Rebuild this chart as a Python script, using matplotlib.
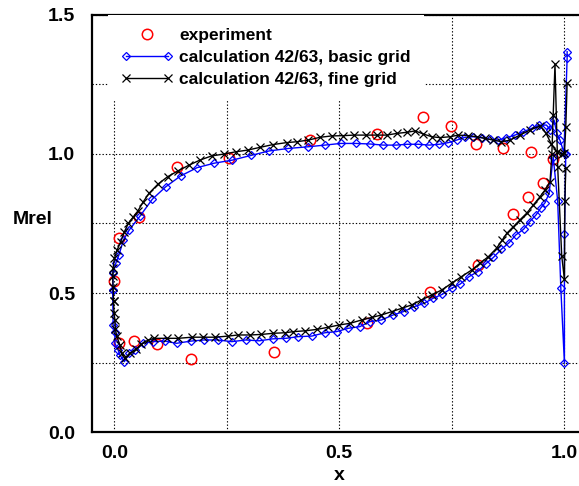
import matplotlib
matplotlib.use("Agg")
import matplotlib.pyplot as plt
from matplotlib.legend_handler import HandlerLine2D

plt.rcParams['font.family'] = ['Liberation Sans', 'DejaVu Sans']
plt.rcParams['font.weight'] = 'bold'

# measured relative Mach number
exp_x = [0.000, 0.011, 0.011, 0.043, 0.054, 0.095, 0.139, 0.170, 0.254, 0.355,
         0.435, 0.561, 0.583, 0.687, 0.702, 0.749, 0.804, 0.809, 0.865, 0.886,
         0.920, 0.927, 0.954, 0.976]
exp_y = [0.544, 0.697, 0.321, 0.328, 0.775, 0.317, 0.952, 0.264, 0.986, 0.287,
         1.050, 0.391, 1.071, 1.134, 0.502, 1.102, 1.035, 0.601, 1.023, 0.784,
         0.847, 1.006, 0.894, 0.981]

# calculation 42/63, basic grid - suction side, leading edge to trailing edge
basic_up_x = [-0.004, -0.003, 0.003, 0.010, 0.020, 0.033, 0.057, 0.084, 0.114, 0.147,
              0.184, 0.222, 0.262, 0.304, 0.344, 0.387, 0.431, 0.468, 0.503, 0.537,
              0.568, 0.598, 0.626, 0.651, 0.676, 0.700, 0.723, 0.743, 0.761, 0.780,
              0.798, 0.817, 0.835, 0.854, 0.872, 0.891, 0.909, 0.928, 0.945, 0.961,
              0.970, 0.978, 0.984, 0.991, 1.000, 1.007, 1.007]
basic_up_y = [0.511, 0.571, 0.607, 0.637, 0.691, 0.727, 0.777, 0.837, 0.882, 0.921,
              0.951, 0.967, 0.978, 0.995, 1.011, 1.020, 1.026, 1.032, 1.038, 1.038,
              1.036, 1.032, 1.032, 1.035, 1.035, 1.032, 1.035, 1.041, 1.050, 1.060,
              1.062, 1.059, 1.053, 1.050, 1.059, 1.068, 1.080, 1.092, 1.104, 1.104,
              1.086, 1.122, 1.074, 1.050, 1.005, 1.344, 1.368]
# basic grid - pressure side
basic_lo_x = [-0.004, -0.003, 0.001, 0.001, 0.008, 0.012, 0.022, 0.033, 0.046, 0.063,
              0.086, 0.112, 0.138, 0.170, 0.199, 0.230, 0.261, 0.292, 0.322, 0.352,
              0.382, 0.409, 0.439, 0.468, 0.494, 0.520, 0.546, 0.568, 0.594, 0.620,
              0.643, 0.667, 0.689, 0.709, 0.729, 0.750, 0.769, 0.789, 0.808, 0.826,
              0.843, 0.861, 0.878, 0.893, 0.910, 0.924, 0.938, 0.948, 0.958, 0.967,
              0.976, 0.986, 0.993, 1.001, 1.001, 1.004]
basic_lo_y = [0.511, 0.385, 0.361, 0.319, 0.295, 0.277, 0.253, 0.283, 0.295, 0.319,
              0.325, 0.327, 0.319, 0.327, 0.331, 0.331, 0.325, 0.331, 0.328, 0.335,
              0.337, 0.343, 0.345, 0.357, 0.361, 0.373, 0.379, 0.397, 0.403, 0.421,
              0.433, 0.451, 0.463, 0.481, 0.495, 0.517, 0.532, 0.559, 0.577, 0.605,
              0.628, 0.658, 0.681, 0.709, 0.729, 0.757, 0.781, 0.805, 0.825, 0.859,
              0.990, 0.831, 0.517, 0.247, 0.711, 1.000]

# calculation 42/63, fine grid - suction side
fine_up_x = [-0.002, -0.003, -0.004, -0.003, 0.000, 0.006, 0.014, 0.022, 0.031, 0.041,
             0.052, 0.064, 0.077, 0.097, 0.118, 0.142, 0.166, 0.190, 0.216, 0.244,
             0.270, 0.296, 0.324, 0.353, 0.383, 0.405, 0.431, 0.457, 0.483, 0.509,
             0.533, 0.560, 0.583, 0.606, 0.628, 0.650, 0.669, 0.687, 0.706, 0.724,
             0.746, 0.765, 0.786, 0.806, 0.824, 0.843, 0.861, 0.880, 0.902, 0.924,
             0.947, 0.960, 0.972, 0.985, 0.995, 1.001, 1.004, 1.007]
fine_up_y = [0.470, 0.520, 0.560, 0.590, 0.625, 0.655, 0.685, 0.720, 0.751, 0.772,
             0.795, 0.828, 0.859, 0.892, 0.918, 0.940, 0.960, 0.978, 0.993, 1.000,
             1.008, 1.014, 1.024, 1.034, 1.041, 1.044, 1.050, 1.060, 1.065, 1.066,
             1.068, 1.068, 1.068, 1.068, 1.074, 1.078, 1.083, 1.072, 1.062, 1.059,
             1.062, 1.068, 1.066, 1.062, 1.056, 1.050, 1.044, 1.050, 1.068, 1.086,
             1.101, 1.075, 1.035, 1.008, 1.000, 1.002, 1.096, 1.254]
# fine grid - pressure side
fine_lo_x = [-0.002, -0.001, 0.001, 0.002, 0.005, 0.012, 0.016, 0.023, 0.034, 0.048,
             0.060, 0.075, 0.089, 0.116, 0.142, 0.172, 0.198, 0.224, 0.253, 0.275,
             0.301, 0.327, 0.353, 0.379, 0.398, 0.424, 0.450, 0.476, 0.500, 0.524,
             0.550, 0.572, 0.594, 0.617, 0.639, 0.661, 0.683, 0.706, 0.728, 0.750,
             0.772, 0.795, 0.813, 0.832, 0.850, 0.862, 0.873, 0.887, 0.902, 0.917,
             0.932, 0.947, 0.958, 0.969, 0.973, 0.976, 0.980, 0.986, 0.995, 1.001,
             1.002, 1.004]
fine_lo_y = [0.470, 0.427, 0.403, 0.370, 0.345, 0.313, 0.283, 0.265, 0.283, 0.297,
             0.316, 0.331, 0.337, 0.337, 0.337, 0.341, 0.341, 0.341, 0.345, 0.349,
             0.349, 0.351, 0.355, 0.357, 0.361, 0.364, 0.369, 0.377, 0.385, 0.391,
             0.403, 0.412, 0.421, 0.433, 0.445, 0.457, 0.475, 0.493, 0.511, 0.535,
             0.559, 0.583, 0.607, 0.631, 0.661, 0.689, 0.715, 0.738, 0.763, 0.787,
             0.817, 0.847, 0.871, 0.900, 1.000, 1.140, 1.323, 0.954, 0.633, 0.549,
             0.831, 0.950]


class RightMarkerHandler(HandlerLine2D):
    """Single legend marker placed at the right end of the handle."""
    def get_xdata(self, legend, xdescent, ydescent, width, height, fontsize):
        xd = [-xdescent, -xdescent + width]
        xm = [-xdescent + width - self._marker_pad * fontsize]
        return xd, xm


fig = plt.figure(figsize=(5.79, 4.86), dpi=100)
ax = fig.add_axes([92 / 579, 54 / 486, 1.1 * 449.5 / 579, 417 / 486])

exp_line, = ax.plot(exp_x, exp_y, 'o', ls='none', ms=7.5, mfc='none',
                    mec='#ff0000', mew=1.1, label='experiment', zorder=3)

blue = '#0000ff'
basic_line, = ax.plot(basic_up_x, basic_up_y, color=blue, lw=1.0, marker='D', ms=4.2,
                      mfc='none', mec=blue, mew=0.9,
                      label='calculation 42/63, basic grid', zorder=4)
ax.plot(basic_lo_x, basic_lo_y, color=blue, lw=1.0, marker='D', ms=4.2,
        mfc='none', mec=blue, mew=0.9, zorder=4)

fine_line, = ax.plot(fine_up_x, fine_up_y, color='black', lw=1.0, marker='x', ms=6,
                     mew=0.9, label='calculation 42/63, fine grid', zorder=5)
ax.plot(fine_lo_x, fine_lo_y, color='black', lw=1.0, marker='x', ms=6,
        mew=0.9, zorder=5)

ax.set_xlim(-0.05, 1.05)
ax.set_ylim(0, 1.5)
ax.set_xticks([0.0, 0.5, 1.0])
ax.set_xticklabels(['0.0', '0.5', '1.0'])
ax.set_xticks([0.25, 0.75], minor=True)
ax.set_yticks([0.0, 0.5, 1.0, 1.5])
ax.set_yticklabels(['0.0', '0.5', '1.0', '1.5'])
ax.set_yticks([0.25, 0.75, 1.25], minor=True)
ax.tick_params(which='both', length=0, labelsize=14)
ax.tick_params(axis='y', pad=12)
ax.tick_params(axis='x', pad=9)
ax.grid(True, which='both', color='black', linestyle=(0, (1.2, 1.8)), linewidth=0.8)
ax.set_axisbelow(True)

for side in ['left', 'bottom', 'top', 'right']:
    ax.spines[side].set_linewidth(1.6)

ax.set_xlabel('x', fontsize=14, fontweight='bold', labelpad=4)
ax.set_ylabel('Mrel', fontsize=14, fontweight='bold', rotation=0, labelpad=0)
ax.yaxis.set_label_coords(-0.12, 0.49)

leg = ax.legend(handles=[exp_line, basic_line, fine_line],
                handler_map={exp_line: RightMarkerHandler(numpoints=1)},
                numpoints=2, loc='upper left', bbox_to_anchor=(0.032, 1.0),
                fontsize=12.5, handlelength=3.0, handletextpad=0.35,
                labelspacing=0.4, borderpad=0.75, borderaxespad=0.0,
                frameon=True, fancybox=False, framealpha=1.0,
                edgecolor='none', facecolor='white')
leg.set_zorder(6)

fig.savefig('out.png', dpi=100)
